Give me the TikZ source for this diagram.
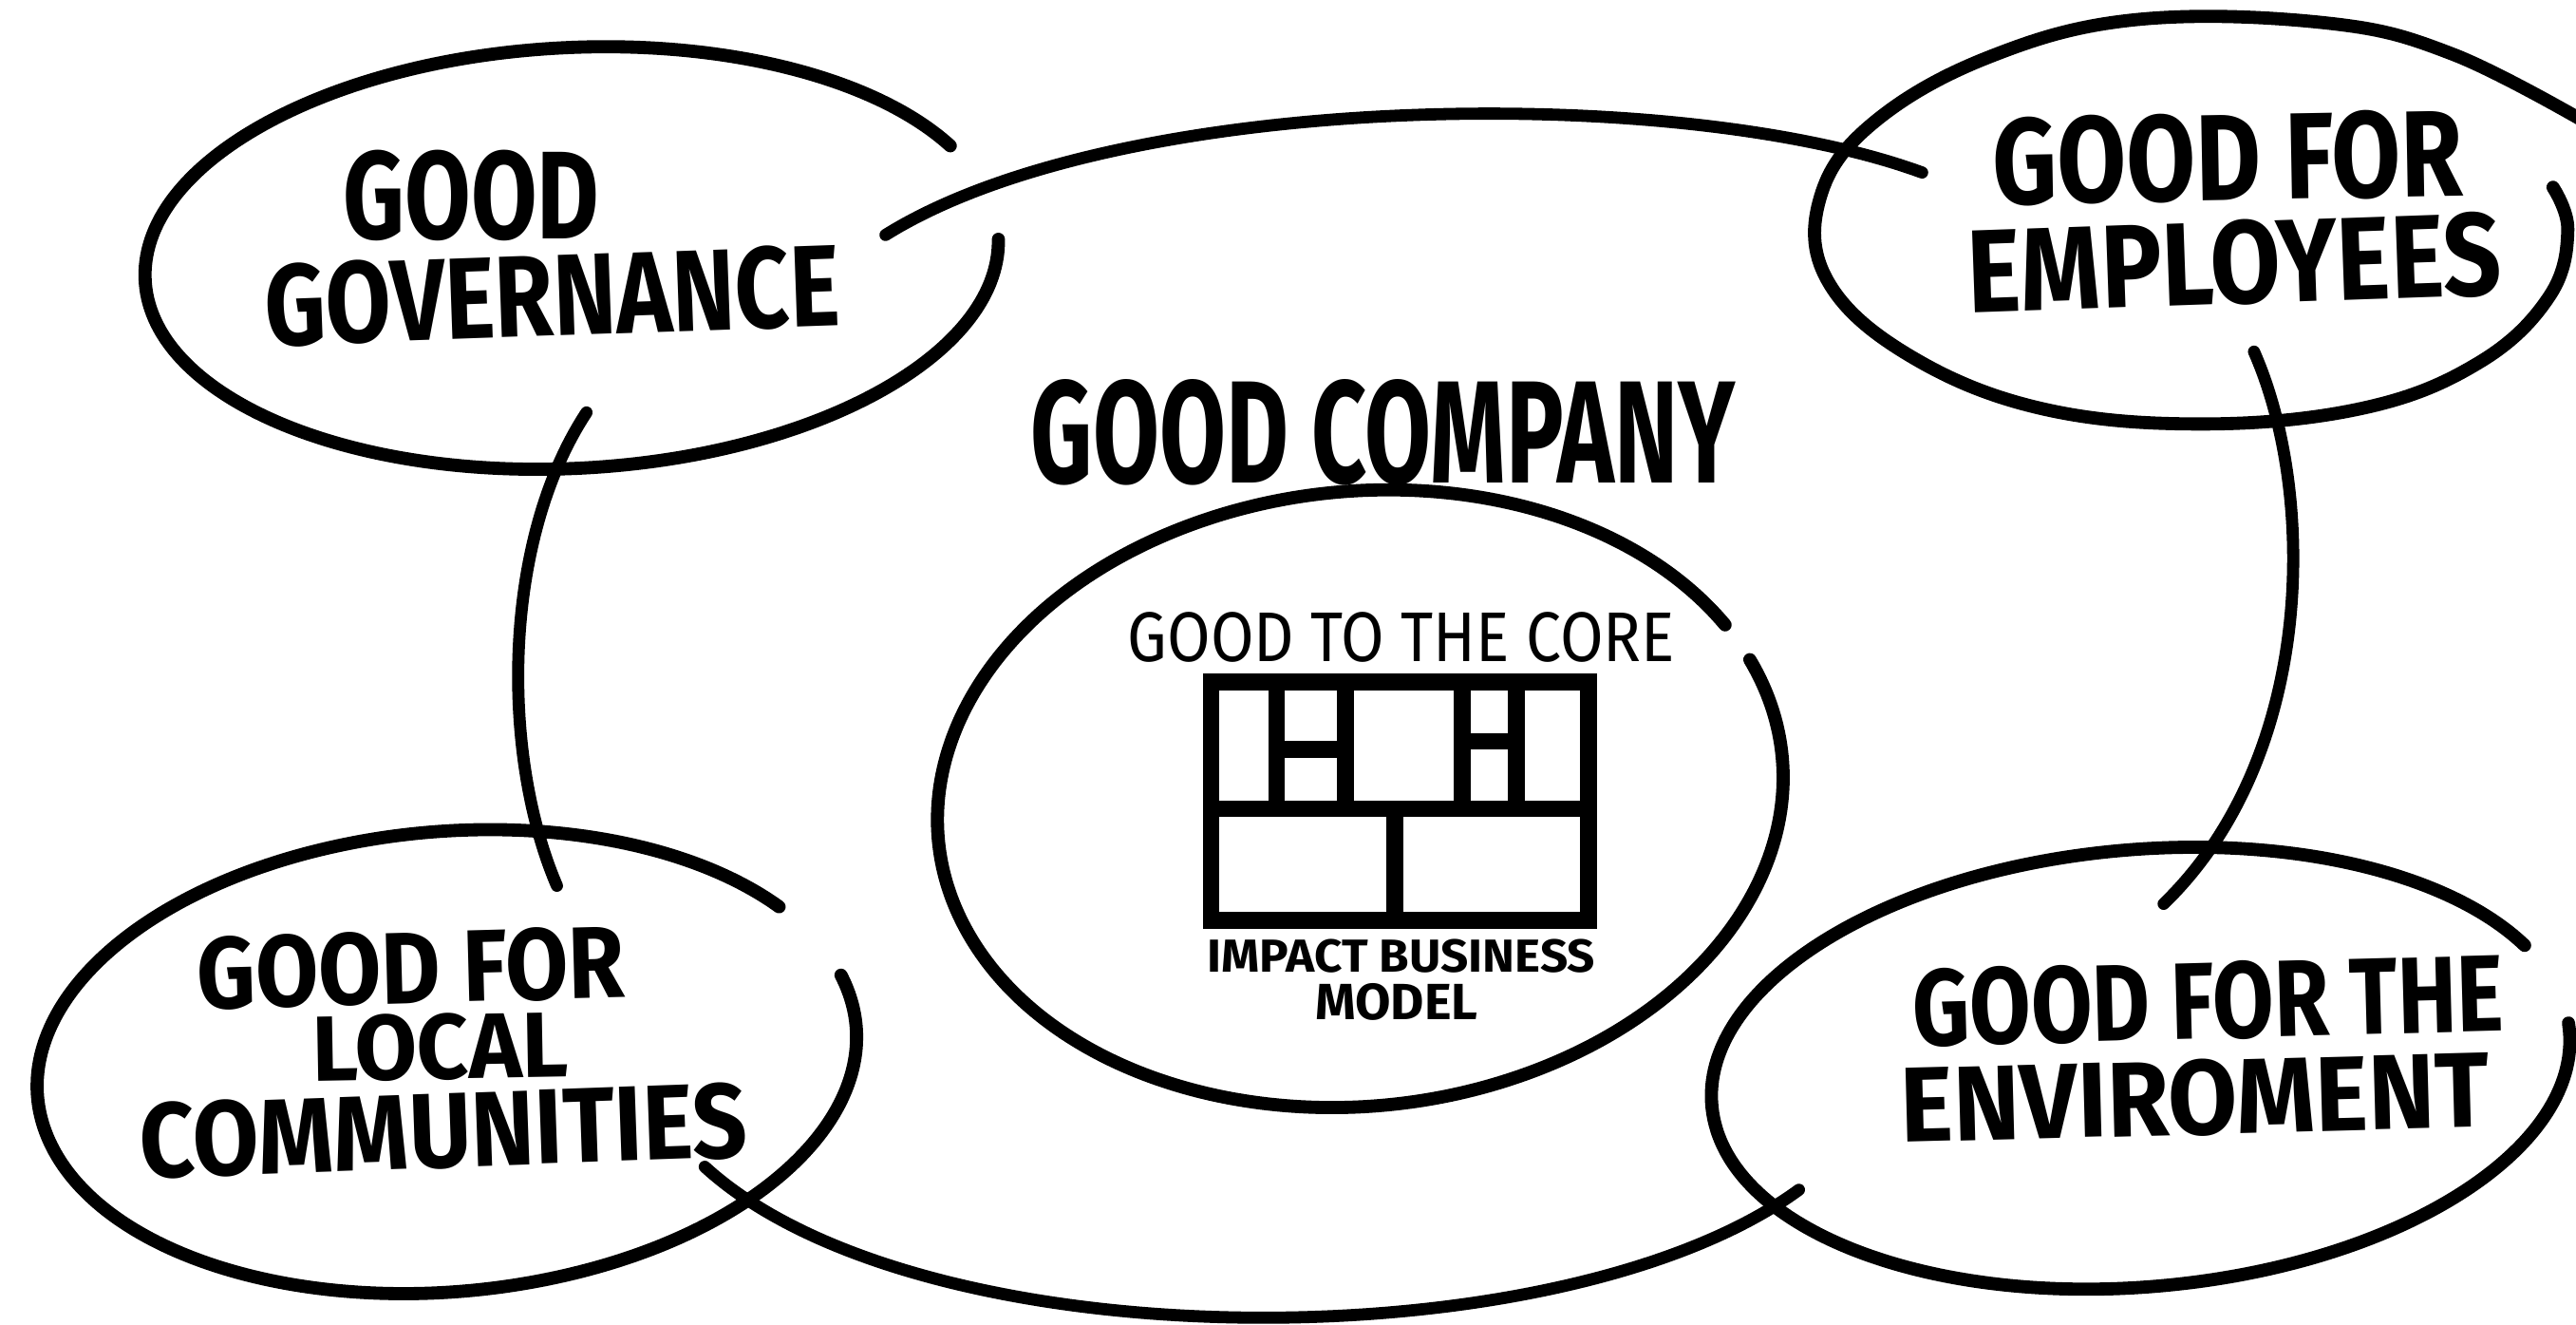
\documentclass[tikz,border=0pt]{standalone}
\usepackage{fontspec}
\usepackage{graphicx}
\newfontfamily\hand{Fira Sans}
\newcommand\fitt[3]{\resizebox{#1mm}{#2mm}{\hand #3}}
\tikzset{
  ring/.style={line width=0.8mm, line cap=round},
  link/.style={line width=0.74mm, line cap=round},
  bmc/.style={line width=1.0mm, line cap=rect, line join=miter},
  lbl/.style={inner sep=0pt, outer sep=0pt}
}
\newcommand\harc[7]{%
  \draw[ring, shift={(#1,#2)}, rotate=#5] (#6:#3 and #4) arc[start angle=#6, end angle=#7, x radius=#3, y radius=#4];}
\begin{document}
\begin{tikzpicture}[x=0.1mm,y=-0.1mm]
\useasboundingbox (0,0) rectangle (1568,806);

% ---- ellipses (open rings) ----
\coordinate (govc) at (348,157);
\coordinate (locc) at (272,646);
\coordinate (envc) at (1303,650);
\coordinate (corec) at (828,486);
\harc{348}{157}{260}{128}{3}{1}{334}
\harc{272}{646}{250}{140}{5}{-13}{327}
\harc{1303}{650}{262}{133}{5}{-2}{336}
\harc{828}{486}{258}{187}{6}{-18.5}{334}
% employees ring (overshooting top end)
\draw[ring] plot[smooth, tension=0.65] coordinates {
  (1554,114) (1563,140) (1552,180) (1510,220) (1440,248) (1340,258)
  (1240,248) (1160,215) (1112,170) (1108,120) (1140,75) (1210,35)
  (1300,12) (1416,14) (1493,33) (1575,75)};

% ---- connectors ----
\coordinate (g1) at (539,143);
\coordinate (e1) at (1170,105);
\coordinate (g2) at (357,251);
\coordinate (l1) at (339,539);
\coordinate (e2) at (1372,214);
\coordinate (v1) at (1317,550);
\coordinate (l2) at (429,710);
\coordinate (v2) at (1095,724);
\draw[link] (g1) .. controls (680,55) and (1020,50) .. (e1);
\draw[link] (g2) .. controls (305,330) and (305,460) .. (l1);
\draw[link] (e2) .. controls (1410,300) and (1410,460) .. (v1);
\draw[link] (l2) .. controls (560,830) and (950,830) .. (v2);

% ---- labels ----
\node[lbl] (govA) at (287,119) {\fitt{15.6}{5.4}{\bfseries GOOD}};
\node[lbl, rotate=2] (govB) at (336,180) {\fitt{35.0}{5.0}{\bfseries GOVERNANCE}};
\node[lbl, rotate=1] (empA) at (1356,96) {\fitt{28.6}{5.3}{\bfseries GOOD FOR}};
\node[lbl, rotate=2] (empB) at (1360,160) {\fitt{32.5}{5.1}{\bfseries EMPLOYEES}};
\node[lbl, rotate=1.5] (locA) at (250,589) {\fitt{26.0}{4.4}{\bfseries GOOD FOR}};
\node[lbl, rotate=1] (locB) at (268,637) {\fitt{15.6}{4.0}{\bfseries LOCAL}};
\node[lbl, rotate=2] (locC) at (270,688) {\fitt{37.0}{4.6}{\bfseries COMMUNITIES}};
\node[lbl, rotate=1.5] (envA) at (1344,609) {\fitt{36.0}{4.7}{\bfseries GOOD FOR THE}};
\node[lbl, rotate=1.5] (envB) at (1336,668) {\fitt{35.8}{4.6}{\bfseries ENVIROMENT}};
\node[lbl] (comp) at (842,263) {\fitt{42.9}{6.3}{\bfseries GOOD COMPANY}};
\node[lbl] (core) at (853,388) {\fitt{33.3}{3.0}{GOOD TO THE CORE}};
\node[lbl] (impA) at (853,582) {\fitt{23.6}{2.0}{\bfseries IMPACT BUSINESS}};
\node[lbl] (impB) at (850,610) {\fitt{9.9}{2.2}{\bfseries MODEL}};

% ---- business model canvas ----
\coordinate (bmcNW) at (737,415);
\coordinate (bmcSE) at (967,560);
\draw[bmc] (bmcNW) rectangle (bmcSE);
\draw[bmc] (737,492) -- (967,492);
\draw[bmc] (777,415) -- (777,492);
\draw[bmc] (819,415) -- (819,492);
\draw[bmc] (890,415) -- (890,492);
\draw[bmc] (923,415) -- (923,492);
\draw[bmc] (777,456) -- (819,456);
\draw[bmc] (890,451) -- (923,451);
\draw[bmc] (849,492) -- (849,560);
\end{tikzpicture}
\end{document}
